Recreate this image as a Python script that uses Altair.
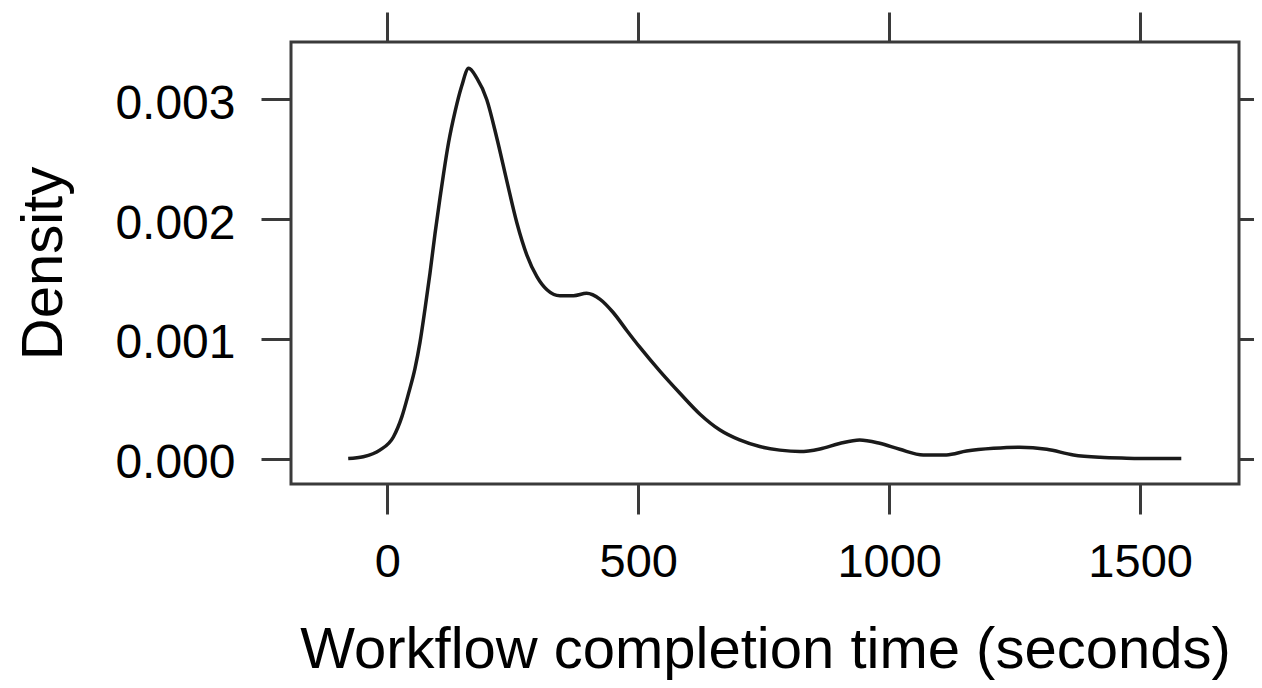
import altair as alt
import pandas as pd

# Kernel density curve of workflow completion time
time_s = [-78, -48, -15, 12, 29, 42, 55, 65, 75, 85, 95, 105, 112, 122, 135, 148,
          162, 178, 198, 218, 238, 258, 278, 298, 318, 344, 371, 397, 424, 450,
          477, 503, 543, 583, 623, 662, 702, 742, 782, 822, 862, 901, 941, 981,
          1021, 1068, 1114, 1154, 1208, 1260, 1314, 1367, 1420, 1473, 1526, 1582]
density = [0.0, 0.000015, 0.00007, 0.00018, 0.00035, 0.00054, 0.00075, 0.00097,
           0.00125, 0.00155, 0.00188, 0.00218, 0.00238, 0.00264, 0.00290, 0.00311,
           0.00326, 0.00318, 0.00300, 0.00268, 0.00232, 0.00197, 0.00170, 0.00152,
           0.00141, 0.00136, 0.00136, 0.00138, 0.00133, 0.00122, 0.00107, 0.00093,
           0.00073, 0.000545, 0.00037, 0.00024, 0.000155, 0.0001, 0.00007,
           0.000058, 0.00008, 0.000125, 0.000155, 0.000127, 0.000077, 0.00003,
           0.00003, 0.000062, 0.000085, 0.000094, 0.000077, 0.00003, 0.00001,
           0.000003, 0.0, 0.0]

x_ticks = [0, 500, 1000, 1500]
y_ticks = [0.0, 0.001, 0.002, 0.003]

df = pd.DataFrame({"time": time_s, "density": density})

FONT = "Liberation Sans"
GREY = "#3a3a3a"

xscale = alt.Scale(domain=[-192, 1697], nice=False, zero=False)
yscale = alt.Scale(domain=[-0.000213, 0.00348], nice=False, zero=False)

common_axis = dict(domain=False, grid=False, tickColor=GREY, tickWidth=3,
                   tickSize=30, labelFont=FONT, labelColor="black",
                   titleFont=FONT, titleColor="black", titleFontWeight="normal")

main = alt.Chart(df).mark_line(
    color="#1a1a1a", strokeWidth=3.5, interpolate="monotone"
).encode(
    x=alt.X("time:Q", scale=xscale,
            axis=alt.Axis(values=x_ticks, format="d", labelFontSize=47,
                          labelBaseline="alphabetic", labelPadding=62,
                          labelFlush=False,
                          title="Workflow completion time (seconds)",
                          titleFontSize=58, titleBaseline="alphabetic",
                          titleY=183, **common_axis)),
    y=alt.Y("density:Q", scale=yscale,
            axis=alt.Axis(values=y_ticks, format=".3f", labelFontSize=48,
                          labelBaseline="alphabetic", labelOffset=19,
                          labelPadding=26, labelFlush=False,
                          title="Density", titleFontSize=58,
                          titleBaseline="alphabetic", titleX=-230,
                          **common_axis)),
)

frame_ticks = alt.Chart(df).mark_line(opacity=0).encode(
    x=alt.X("time:Q", scale=xscale,
            axis=alt.Axis(orient="top", values=x_ticks, labels=False, title=None,
                          **common_axis)),
    y=alt.Y("density:Q", scale=yscale,
            axis=alt.Axis(orient="right", values=y_ticks, labels=False, title=None,
                          **common_axis)),
)

chart = alt.layer(main, frame_ticks).resolve_axis(
    x="independent", y="independent"
).properties(
    width=948, height=442,
    autosize=alt.AutoSizeParams(type="none"),
    padding={"left": 283, "top": 34, "right": 15, "bottom": 196},
    background="white",
).configure_view(stroke=GREY, strokeWidth=3)

chart.save("out.html", embed_options={"renderer": "svg", "actions": False})
